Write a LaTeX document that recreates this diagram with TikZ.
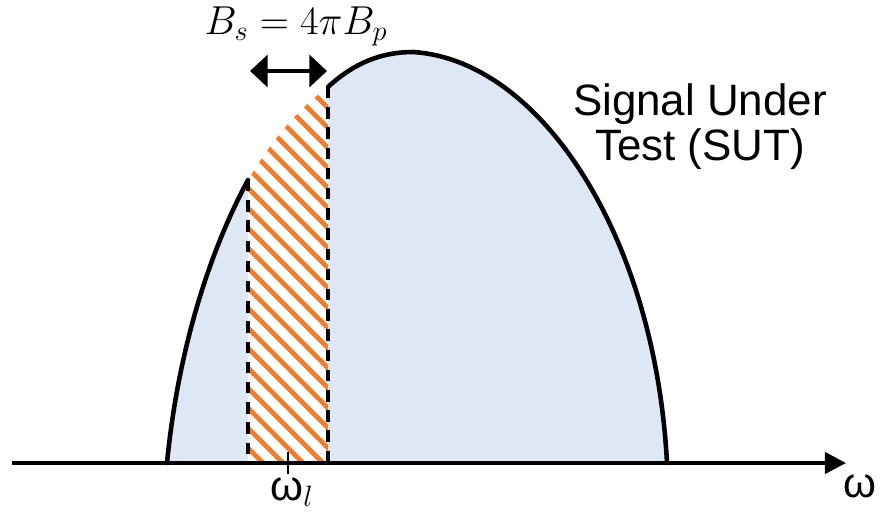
\RequirePackage{fix-cm}
\documentclass[tikz,border=0pt]{standalone}
\usepackage{amsmath,amssymb}
\usepackage{fontspec}
\usepackage{xcolor}
\usepackage{tikz}
\usetikzlibrary{arrows.meta}
\newfontfamily\arialfont{Liberation Sans}
\definecolor{sutblue}{RGB}{222,232,245}
\definecolor{hatchorange}{RGB}{237,125,49}

\begin{document}
\begin{tikzpicture}[x=0.02cm, y=-0.02cm,
  axis/.style={line width=2.4pt},
  envelope/.style={line width=2.6pt, line cap=round},
  guide/.style={line width=1.9pt, dash pattern=on 6.5pt off 5pt},
  stripe/.style={hatchorange, line width=2.7pt},
  txt/.style={font=\fontsize{25}{25.5}\selectfont\arialfont, align=center},
  omega/.style={font=\fontsize{24}{28}\selectfont\arialfont}]
  \useasboundingbox (0,0) rectangle (882,518);

  % key points of the spectrum
  \coordinate (lo) at (167,463);
  \coordinate (cl) at (248,180);
  \coordinate (cr) at (328,87);
  \coordinate (pk) at (413,52);
  \coordinate (hi) at (667,463);
  \coordinate (fl) at (248,463);
  \coordinate (fr) at (328,463);

  % filled spectrum
  \fill[sutblue] (lo) .. controls (177,360) and (205,260) .. (cl) -- (fl) -- cycle;
  \fill[sutblue] (cr) .. controls (355,62) and (383,52) .. (pk)
                      .. controls (540,60) and (655,235) .. (hi) -- (fr) -- cycle;
  \fill[white] (cl) .. controls (275,135) and (300,108) .. (cr) -- (fr) -- (fl) -- cycle;

  % hatched slice
  \begin{scope}
    \clip (cl) .. controls (275,135) and (300,108) .. (cr) -- (fr) -- (fl) -- cycle;
    \foreach \c in {-240,-220,...,260}
      \draw[stripe] (\c+40,40) -- (\c+520,520);
  \end{scope}
  \draw[guide] (cl) -- (fl);
  \draw[guide] (cr) -- (fr);

  % envelope
  \draw[envelope] (lo) .. controls (177,360) and (205,260) .. (cl);
  \draw[envelope] (cr) .. controls (355,62) and (383,52) .. (pk)
                       .. controls (540,60) and (655,235) .. (hi);

  % frequency axis
  \coordinate (ax0) at (12,463);
  \coordinate (ax1) at (846,463);
  \draw[axis, -{Triangle[length=12pt,width=12pt]}] (ax0) -- (ax1);
  \coordinate (tkt) at (288,452);
  \coordinate (tkb) at (288,474);
  \draw[line width=1.2pt] (tkt) -- (tkb);

  % bandwidth of the slice
  \coordinate (bw0) at (250,71);
  \coordinate (bw1) at (327,71);
  \draw[line width=2.3pt, {Triangle[length=10pt,width=18pt]}-{Triangle[length=10pt,width=18pt]}] (bw0) -- (bw1);

  \node[font=\fontsize{23}{28}\selectfont, anchor=base] (bs) at (296,34) {$B_s = 4\pi B_p$};
  \node[txt, anchor=base] (sut) at (700,160) {Signal Under\\Test (SUT)};
  \node[omega, anchor=base] (wl) at (292,500) {ω$_{l}$};
  \node[omega, anchor=base] (w) at (860,497) {ω};
\end{tikzpicture}
\end{document}
